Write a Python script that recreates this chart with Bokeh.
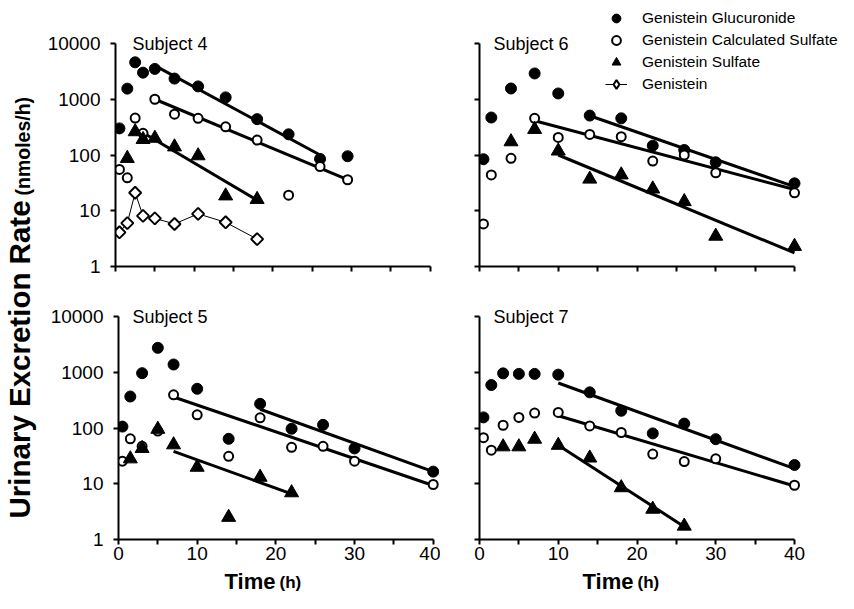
from bokeh.plotting import figure
from bokeh.models import (Range1d, FixedTicker, Label, Legend, LegendItem,
                          PrintfTickFormatter, CustomJSTickFormatter)
from bokeh.layouts import row, column
from bokeh.embed import file_html
from bokeh.resources import INLINE

FONT = "Liberation Sans"

# ---------------- axes / text ----------------
x_ticks = [0, 10, 20, 30, 40]
x_minor_ticks = [5, 15, 25, 35]
y_ticks = [1, 10, 100, 1000, 10000]
legend_labels = ["Genistein Glucuronide", "Genistein Calculated Sulfate",
                 "Genistein Sulfate", "Genistein"]
y_title_main = "Urinary Excretion Rate"
y_title_unit = "(nmoles/h)"
x_title_main = "Time"
x_title_unit = "(h)"

# ---------------- Subject 4 ----------------
s4_time = [0.5, 1.5, 2.5, 3.5, 5, 7.5, 10.5, 14, 18, 22, 26, 29.5]
s4_glucuronide = [300, 1550, 4600, 3000, 3500, 2350, 1700, 1080, 440, 235, 85, 95]
s4_calc_sulfate = [55, 39, 460, 245, 1000, 540, 455, 320, 185, 19, 62, 36]
s4_sulfate_time = [1.5, 2.5, 3.5, 5, 7.5, 10.5, 14, 18]
s4_sulfate = [87, 262, 190, 200, 140, 97, 18.5, 16]
s4_genistein_time = [0.5, 1.5, 2.5, 3.5, 5, 7.5, 10.5, 14, 18]
s4_genistein = [4.1, 6.0, 21, 8.1, 7.3, 5.8, 8.8, 6.2, 3.1]
s4_fit_glucuronide_time = [5, 26]
s4_fit_glucuronide = [4000, 100]
s4_fit_calc_time = [5, 29.5]
s4_fit_calc = [1000, 36]
s4_fit_sulfate_time = [3.5, 18]
s4_fit_sulfate = [250, 15.5]

# ---------------- Subject 6 ----------------
s6_time = [0.5, 1.5, 4, 7, 10, 14, 18, 22, 26, 30, 40]
s6_glucuronide = [84, 470, 1560, 2900, 1270, 510, 455, 147, 123, 74, 31]
s6_calc_sulfate = [5.8, 44, 87, 455, 207, 234, 213, 78, 100, 48, 21]
s6_sulfate_time = [4, 7, 10, 14, 18, 22, 26, 30, 40]
s6_sulfate = [173, 288, 118, 37, 44, 24.6, 14.6, 3.5, 2.3]
s6_fit_glucuronide_time = [14, 40]
s6_fit_glucuronide = [506, 27]
s6_fit_calc_time = [7, 40]
s6_fit_calc = [412, 24]
s6_fit_sulfate_time = [10, 40]
s6_fit_sulfate = [100, 1.75]

# ---------------- Subject 5 ----------------
s5_time = [0.5, 1.5, 3, 5, 7, 10, 14, 18, 22, 26, 30, 40]
s5_glucuronide = [106, 367, 963, 2740, 1377, 505, 64, 271, 97, 114, 43, 16.5]
s5_calc_sulfate = [25.4, 64, 47, 88, 394, 172, 31, 152, 45, 47, 25.4, 9.7]
s5_sulfate_time = [1.5, 3, 5, 7, 10, 14, 18, 22]
s5_sulfate = [28, 43, 95, 50, 19.8, 2.5, 13.1, 6.9]
s5_fit_glucuronide_time = [18, 40]
s5_fit_glucuronide = [217, 16.5]
s5_fit_calc_time = [7, 40]
s5_fit_calc = [360, 9.3]
s5_fit_sulfate_time = [7, 22]
s5_fit_sulfate = [38, 6.6]

# ---------------- Subject 7 ----------------
s7_time = [0.5, 1.5, 3, 5, 7, 10, 14, 18, 22, 26, 30, 40]
s7_glucuronide = [155, 590, 955, 935, 935, 906, 436, 204, 80, 120, 63, 21.7]
s7_calc_sulfate = [67, 40, 112, 155, 185, 190, 109, 83, 34, 25, 28, 9.4]
s7_sulfate_time = [3, 5, 7, 10, 14, 18, 22, 26]
s7_sulfate = [46, 46, 63, 49, 29, 8.5, 3.5, 1.74]
s7_fit_glucuronide_time = [10, 40]
s7_fit_glucuronide = [641, 18.7]
s7_fit_calc_time = [10, 40]
s7_fit_calc = [166, 9.1]
s7_fit_sulfate_time = [10, 26]
s7_fit_sulfate = [49, 1.7]

PX_PER_DECADE = 55.75
PX_PER_HOUR = 7.875


def make_panel(width, height, b_left, b_right, b_bottom, x_end, top_pad_px, x_labels, y_labels):
    y_end = 10 ** (4 + top_pad_px / PX_PER_DECADE)
    p = figure(width=width, height=height,
               x_range=Range1d(0, x_end), y_range=Range1d(1, y_end),
               y_axis_type="log", output_backend="svg", toolbar_location=None,
               min_border_left=b_left, min_border_right=b_right,
               min_border_top=0, min_border_bottom=b_bottom)
    p.outline_line_color = None
    p.xgrid.visible = False
    p.ygrid.visible = False
    p.background_fill_color = "white"
    p.border_fill_color = "white"
    xa = p.xaxis[0]
    ya = p.yaxis[0]
    xa.ticker = FixedTicker(ticks=x_ticks, minor_ticks=x_minor_ticks)
    xa.bounds = (0, 40)
    ya.ticker = FixedTicker(ticks=y_ticks)
    ya.bounds = (1, 10000)
    for ax in (xa, ya):
        ax.axis_line_width = 2
        ax.axis_line_color = "black"
        ax.major_tick_line_width = 2
        ax.major_tick_line_color = "black"
        ax.major_tick_out = 5
        ax.major_tick_in = 0
        ax.major_label_text_font = FONT
        ax.major_label_text_font_size = "19px"
        ax.major_label_text_color = "black"
    xa.minor_tick_line_width = 2
    xa.minor_tick_line_color = "black"
    xa.minor_tick_out = 5
    xa.minor_tick_in = 0
    ya.minor_tick_line_color = None
    xa.major_label_standoff = 2
    ya.major_label_standoff = 10
    xa.formatter = PrintfTickFormatter(format="%d") if x_labels else CustomJSTickFormatter(code="return ''")
    ya.formatter = PrintfTickFormatter(format="%d") if y_labels else CustomJSTickFormatter(code="return ''")
    return p


def draw(p, t, gluc, calc, st, sulf, fits):
    for ft, fv in fits:
        p.line(ft, fv, line_width=3, line_color="black")
    r1 = p.scatter(t, gluc, marker="circle", size=11, fill_color="black", line_color="black")
    r2 = p.scatter(t, calc, marker="circle", size=9, fill_color="white",
                   line_color="black", line_width=2)
    r3 = p.scatter(st, sulf, marker="triangle", size=14, fill_color="black", line_color="black")
    return r1, r2, r3


def subject_label(p, text, dx):
    p.add_layout(Label(x=0, y=10000, x_offset=dx, text=text, text_font=FONT,
                       text_font_size="18px", text_baseline="middle", text_align="left",
                       text_color="black"))


TOP_H = 288
BOT_H = 280
STRIP_H = 25
LEFT_W = 40
TOP_PAD_TOP = 43      # px between frame top and the 10000 line (top row)
TOP_PAD_BOT = 28      # same for bottom row
X_END_LEFT = 40.8
X_END_RIGHT = 359 / PX_PER_HOUR

# Top-left: Subject 4
tl = make_panel(400, TOP_H, 75, 4, 22, X_END_LEFT, TOP_PAD_TOP, False, True)
draw(tl, s4_time, s4_glucuronide, s4_calc_sulfate, s4_sulfate_time, s4_sulfate,
     [(s4_fit_glucuronide_time, s4_fit_glucuronide), (s4_fit_calc_time, s4_fit_calc),
      (s4_fit_sulfate_time, s4_fit_sulfate)])
tl.line(s4_genistein_time, s4_genistein, line_width=1, line_color="black")
tl.scatter(s4_genistein_time, s4_genistein, marker="square", angle=0.785398, size=8.5,
           fill_color="white", line_color="black", line_width=2)
subject_label(tl, "Subject 4", 17)

# Top-right: Subject 6 (+ legend)
tr = make_panel(398, TOP_H, 39, 0, 22, X_END_RIGHT, TOP_PAD_TOP, False, False)
g6, c6, su6 = draw(tr, s6_time, s6_glucuronide, s6_calc_sulfate, s6_sulfate_time, s6_sulfate,
                   [(s6_fit_glucuronide_time, s6_fit_glucuronide), (s6_fit_calc_time, s6_fit_calc),
                    (s6_fit_sulfate_time, s6_fit_sulfate)])
# legend proxies for the Genistein series (hidden in this panel)
gen_line = tr.line(s4_genistein_time, s4_genistein, line_width=1, line_color="black", visible=False)
gen_mark = tr.scatter(s4_genistein_time, s4_genistein, marker="diamond", size=12,
                      fill_color="white", line_color="black", line_width=2, visible=False)
subject_label(tr, "Subject 6", 14)
legend = Legend(items=[LegendItem(label=legend_labels[0], renderers=[g6]),
                       LegendItem(label=legend_labels[1], renderers=[c6]),
                       LegendItem(label=legend_labels[2], renderers=[su6]),
                       LegendItem(label=legend_labels[3], renderers=[gen_line, gen_mark])],
                location=(126, 171), orientation="vertical",
                glyph_width=22, glyph_height=22, label_height=22, spacing=0,
                label_standoff=15, padding=0, margin=0,
                border_line_color=None, background_fill_alpha=0,
                inactive_fill_alpha=0,
                label_text_font=FONT, label_text_font_size="15.5px", label_text_color="black")
tr.add_layout(legend, "center")

# Bottom-left: Subject 5
bl = make_panel(400, BOT_H, 78, 1, 29, X_END_LEFT, TOP_PAD_BOT, True, True)
draw(bl, s5_time, s5_glucuronide, s5_calc_sulfate, s5_sulfate_time, s5_sulfate,
     [(s5_fit_glucuronide_time, s5_fit_glucuronide), (s5_fit_calc_time, s5_fit_calc),
      (s5_fit_sulfate_time, s5_fit_sulfate)])
subject_label(bl, "Subject 5", 14)

# Bottom-right: Subject 7
br = make_panel(398, BOT_H, 39, 0, 29, X_END_RIGHT, TOP_PAD_BOT, True, False)
draw(br, s7_time, s7_glucuronide, s7_calc_sulfate, s7_sulfate_time, s7_sulfate,
     [(s7_fit_glucuronide_time, s7_fit_glucuronide), (s7_fit_calc_time, s7_fit_calc),
      (s7_fit_sulfate_time, s7_fit_sulfate)])
subject_label(br, "Subject 7", 14)


def bare(width, height):
    f = figure(width=width, height=height, output_backend="svg", toolbar_location=None,
               x_axis_location=None, y_axis_location=None, min_border=0,
               x_range=Range1d(0, 1), y_range=Range1d(0, 1))
    f.outline_line_color = None
    f.xgrid.visible = False
    f.ygrid.visible = False
    return f


# Strip with the x-axis titles
strip = bare(798, STRIP_H)
for x_right in (235, 593):
    strip.add_layout(Label(x=x_right, y=12.5, x_units="screen", y_units="screen", text=x_title_main,
                           text_font=FONT, text_font_size="22px", text_font_style="bold",
                           text_align="right", text_baseline="middle", text_color="black"))
    strip.add_layout(Label(x=x_right + 4, y=11.2, x_units="screen", y_units="screen", text=x_title_unit,
                           text_font=FONT, text_font_size="17px", text_font_style="bold",
                           text_align="left", text_baseline="middle", text_color="black"))

# Shared y-axis title
lab = bare(LEFT_W, TOP_H + BOT_H + STRIP_H)
lab.add_layout(Label(x=19, y=75, x_units="screen", y_units="screen", angle=90, angle_units="deg",
                     text=y_title_main, text_font=FONT, text_font_size="29.5px",
                     text_font_style="bold", text_align="left", text_baseline="middle",
                     text_color="black"))
lab.add_layout(Label(x=22, y=398, x_units="screen", y_units="screen", angle=90, angle_units="deg",
                     text=y_title_unit, text_font=FONT, text_font_size="19.5px",
                     text_font_style="bold", text_align="left", text_baseline="middle",
                     text_color="black"))

layout = row(lab, column(row(tl, tr), row(bl, br), strip))
open("out.html", "w").write(file_html(layout, INLINE))
